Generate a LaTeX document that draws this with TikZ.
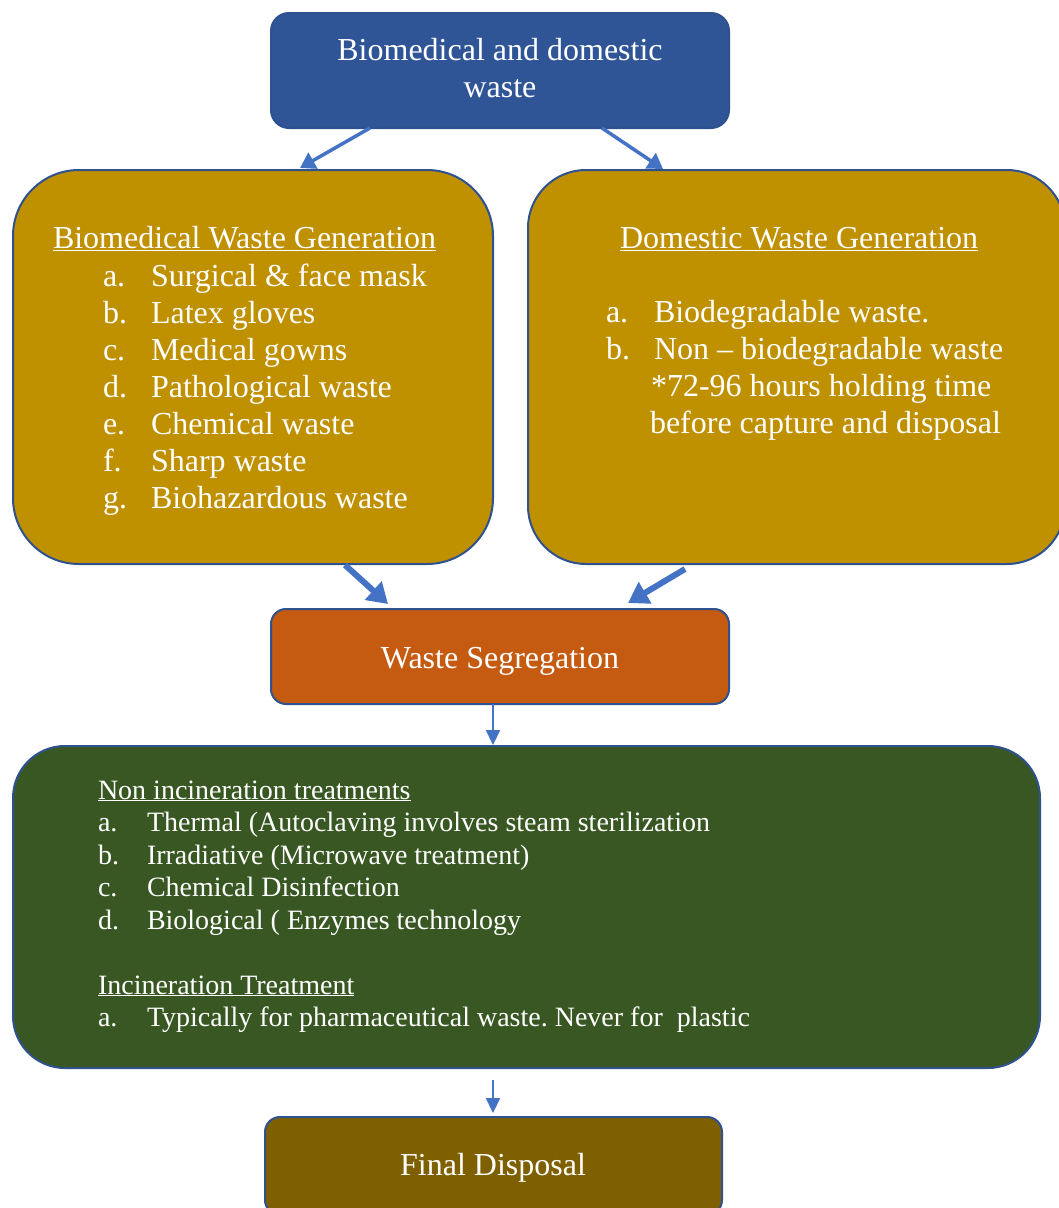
\documentclass[tikz,border=0pt]{standalone}
\usepackage{fontspec}
\setmainfont{Liberation Serif}
\usetikzlibrary{arrows.meta,calc}
\definecolor{topblue}{HTML}{2F5597}
\definecolor{bordc}{HTML}{2F528F}
\definecolor{gold}{HTML}{BF9000}
\definecolor{segor}{HTML}{C55A11}
\definecolor{grn}{HTML}{385723}
\definecolor{finbr}{HTML}{7F6000}
\definecolor{arrc}{HTML}{4472C4}
\tikzset{
  box/.style={draw=bordc, line width=2pt, inner sep=0pt, outer sep=0pt},
  txt/.style={text=white, font=\fontsize{32}{37}\selectfont\frenchspacing, inner sep=0pt, outer sep=0pt},
  stxt/.style={text=white, font=\fontsize{28}{32.5}\selectfont\frenchspacing, inner sep=0pt, outer sep=0pt},
  arrthin/.style={draw=arrc, line width=3.5pt, -{Triangle[length=15pt,width=18pt]}},
  arrthick/.style={draw=arrc, line width=6pt, -{Triangle[length=20pt,width=24pt]}},
  arrvert/.style={draw=arrc, line width=2.2pt, -{Triangle[length=15pt,width=14pt]}}
}
\begin{document}
\begin{tikzpicture}[x=1pt,y=-1pt]
\useasboundingbox (0,0) rectangle (1059,1208);
\fill[white] (0,0) rectangle (1059,1208);
\clip (0,0) rectangle (1059,1208);

% boxes
\node[box, fill=topblue, rounded corners=18pt, minimum width=458pt, minimum height=115pt] (top) at (500,70.5) {};
\node[box, fill=gold, rounded corners=66pt, minimum width=480pt, minimum height=394pt] (bio) at (253,367) {};
\node[box, fill=gold, rounded corners=58pt, minimum width=537pt, minimum height=394pt] (dom) at (796.5,367) {};
\node[box, fill=segor, rounded corners=15pt, minimum width=458pt, minimum height=95pt] (seg) at (500,656.5) {};
\node[box, fill=grn, rounded corners=52pt, minimum width=1027pt, minimum height=322pt] (gbox) at (526.5,907) {};
\node[box, fill=finbr, rounded corners=15pt, minimum width=457pt, minimum height=98pt] (fin) at (493.5,1166) {};

% top text
\node[txt, anchor=base] (t1) at (500,60) {Biomedical and domestic};
\node[txt, anchor=base] (t2) at (500,97) {waste};

% biomedical list
\node[txt, anchor=base west] (bh) at (53,248) {\underline{Biomedical Waste Generation}};
\foreach \l/\t [count=\i] in {a./Surgical \& face mask, b./Latex gloves, c./Medical gowns, d./Pathological waste, e./Chemical waste, f./Sharp waste, g./Biohazardous waste} {
  \node[txt, anchor=base west] (bl\i) at (103,249+37*\i) {\l};
  \node[txt, anchor=base west] (bt\i) at (151,249+37*\i) {\t};
}

% domestic list
\node[txt, anchor=base west] (dh) at (620,248) {\underline{Domestic Waste Generation}};
\node[txt, anchor=base west] (dl1) at (606,322) {a.};
\node[txt, anchor=base west] (dt1) at (654,322) {Biodegradable waste.};
\node[txt, anchor=base west] (dl2) at (606,359) {b.};
\node[txt, anchor=base west] (dt2) at (654,359) {Non – biodegradable waste};
\node[txt, anchor=base west] (dt3) at (651,396) {*72-96 hours holding time};
\node[txt, anchor=base west] (dt4) at (650,433) {before capture and disposal};

% segregation
\node[txt, anchor=base] (st) at (500,668) {Waste Segregation};

% treatments
\node[stxt, anchor=base west] (gh1) at (98,799) {\underline{Non incineration treatments}};
\foreach \l/\t [count=\i] in {a./Thermal (Autoclaving involves steam sterilization, b./Irradiative (Microwave treatment), c./Chemical Disinfection, d./Biological ( Enzymes technology} {
  \node[stxt, anchor=base west] (gl\i) at (98,799+32.5*\i) {\l};
  \node[stxt, anchor=base west] (gt\i) at (147,799+32.5*\i) {\t};
}
\node[stxt, anchor=base west] (gh2) at (98,994) {\underline{Incineration Treatment}};
\node[stxt, anchor=base west] (gl5) at (98,1026.5) {a.};
\node[stxt, anchor=base west] (gt5) at (147,1026.5) {Typically for pharmaceutical waste. Never for \ plastic};

% final
\node[txt, anchor=base] (ft) at (493,1175) {Final Disposal};

% arrows
\draw[arrthin] ([xshift=-130pt]top.south) -- ([xshift=47pt,yshift=2pt]bio.north);
\draw[arrthin] ([xshift=102pt]top.south) -- ([xshift=-133.5pt,yshift=1pt]dom.north);
\draw[arrthick] ([xshift=92pt,yshift=-1pt]bio.south) -- ([xshift=-112pt,yshift=5pt]seg.north);
\draw[arrthick] ([xshift=-111.5pt,yshift=-5pt]dom.south) -- ([xshift=128pt,yshift=6pt]seg.north);
\draw[arrvert] ([xshift=-7pt]seg.south) -- ([xshift=-33.5pt,yshift=1pt]gbox.north);
\draw[arrvert] ([xshift=-33.5pt,yshift=-12pt]gbox.south) -- ([xshift=-0.5pt,yshift=4pt]fin.north);
\end{tikzpicture}
\end{document}
